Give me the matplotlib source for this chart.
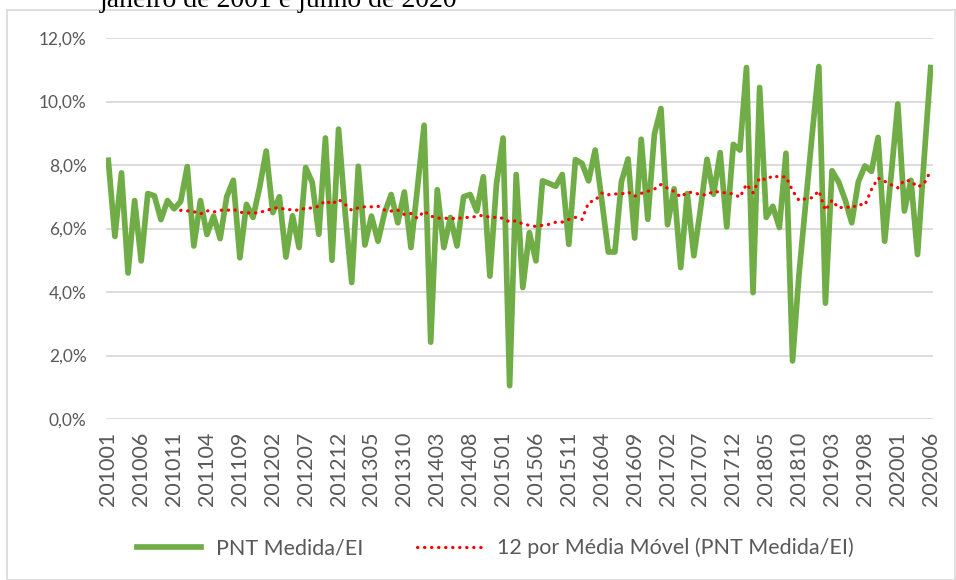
import pandas as pd
import matplotlib.pyplot as plt
from matplotlib.patches import Rectangle
from matplotlib.ticker import FuncFormatter

# PNT Medida/EI mensal (%), jan/2010 a jun/2020
inicio = '2010-01'
fim = '2020-06'
pnt_medida = [
    8.15, 5.75, 7.75, 4.60, 6.88, 4.98, 7.10, 7.03, 6.28, 6.88, 6.62, 6.85,
    7.95, 5.45, 6.88, 5.81, 6.39, 5.68, 7.00, 7.52, 5.08, 6.76, 6.35, 7.30,
    8.44, 6.50, 7.00, 5.10, 6.40, 5.40, 7.92, 7.45, 5.82, 8.85, 5.00, 9.13,
    6.50, 4.30, 7.96, 5.48, 6.39, 5.60, 6.50, 7.07, 6.18, 7.15, 5.40, 7.30,
    9.25, 2.42, 7.22, 5.40, 6.35, 5.45, 7.00, 7.07, 6.55, 7.63, 4.50, 7.40,
    8.85, 1.05, 7.70, 4.14, 5.87, 4.98, 7.50, 7.42, 7.33, 7.70, 5.50, 8.17,
    8.05, 7.50, 8.47, 6.90, 5.26, 5.26, 7.48, 8.19, 5.70, 8.81, 6.29, 8.97,
    9.78, 6.12, 7.25, 4.77, 7.10, 5.14, 6.60, 8.18, 7.08, 8.39, 6.05, 8.65,
    8.47, 11.07, 3.98, 10.44, 6.35, 6.70, 6.03, 8.37, 1.83, 4.60, 6.80, 9.00,
    11.10, 3.65, 7.82, 7.47, 6.90, 6.18, 7.47, 7.97, 7.80, 8.87, 5.60, 7.70,
    9.92, 6.55, 7.52, 5.18, 8.20, 11.07,
]

meses = pd.period_range(inicio, fim, freq='M').strftime('%Y%m')
serie = pd.Series(pnt_medida, index=meses)
media_movel = serie.rolling(12).mean()

verde = '#70AD47'
vermelho = '#FF0000'
cinza_txt = '#595959'
cinza_grade = '#D9D9D9'
fonte = 'Lato'

fig = plt.figure(figsize=(9.56, 5.8), dpi=100)
ax = fig.add_axes([106 / 956, 1 - 419 / 580, 827 / 956, 381 / 580])

x = range(len(serie))
ax.plot(x, serie.values, color=verde, lw=4.1, solid_joinstyle='round',
        label='PNT Medida/EI', zorder=3)
ax.plot(x, media_movel.values, color=vermelho, lw=2.3,
        linestyle=(0, (0.1, 2.1)), dash_capstyle='round',
        label='12 por Média Móvel (PNT Medida/EI)', zorder=4)

ax.set_ylim(0, 12)
ax.set_yticks(range(0, 13, 2))
ax.yaxis.set_major_formatter(FuncFormatter(lambda v, p: f'{v:.1f}%'.replace('.', ',')))
ax.set_xlim(-0.35, len(serie) - 1 + 0.35)
ax.set_xticks(list(x)[::5])
ax.set_xticklabels(meses[::5], rotation=90)

ax.grid(axis='y', color=cinza_grade, lw=1.3)
ax.set_axisbelow(True)
for s in ax.spines.values():
    s.set_visible(False)
ax.tick_params(length=0, colors=cinza_txt)
ax.tick_params(axis='y', labelsize=12.5, pad=14)
ax.tick_params(axis='x', labelsize=15.5, pad=9)
for t in ax.get_xticklabels() + ax.get_yticklabels():
    t.set_fontfamily(fonte)

leg = fig.legend(loc='center', bbox_to_anchor=(0.518, 1 - 548 / 580), ncol=2,
                 frameon=False, handlelength=3.0, handletextpad=0.7,
                 columnspacing=2.5, prop={'family': fonte, 'size': 15.5})
for t in leg.get_texts():
    t.set_color(cinza_txt)

# moldura da área do gráfico
fig.patches.append(Rectangle((7 / 956, 0), 948 / 956, 1 - 10 / 580,
                             transform=fig.transFigure, fill=False,
                             edgecolor=cinza_grade, lw=1.2))

# legenda da figura, cortada no topo
fig.text(100 / 956, 1 - 7.3 / 580, 'janeiro de 2001 e junho de 2020',
         family='Liberation Serif', size=20, va='baseline', color='black')

fig.savefig('out.png', dpi=100)
